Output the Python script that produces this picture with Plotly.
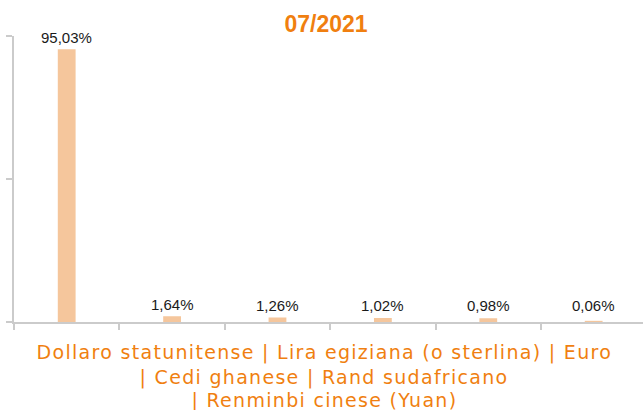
import plotly.graph_objects as go

categories = ["Dollaro statunitense", "Lira egiziana (o sterlina)", "Euro",
              "Cedi ghanese", "Rand sudafricano", "Renminbi cinese (Yuan)"]
values = [95.03, 1.64, 1.26, 1.02, 0.98, 0.06]
value_labels = ["95,03%", "1,64%", "1,26%", "1,02%", "0,98%", "0,06%"]
title_text = "07/2021"
y_ticks = [0, 50, 100]

BAR = "#F5C69C"
ORANGE = "#F07F10"
AXIS = "#CBCBCB"
MIN_LABEL_Y = 1.3  # labels of tiny bars sit like the chart's minimum bar length

fig = go.Figure()
fig.add_trace(go.Bar(x=categories, y=values,
                     marker=dict(color=BAR, line=dict(width=2, color=BAR)),
                     width=0.15, hoverinfo="skip"))

for c, v, t in zip(categories, values, value_labels):
    fig.add_annotation(x=c, y=max(v, MIN_LABEL_Y), text=t, showarrow=False, xref="x", yref="y",
                       yanchor="bottom", yshift=2,
                       font=dict(family="Liberation Sans, Arial", size=15, color="#1a1a1a"))

lines = [" | ".join(categories[:3]),
         "| " + " | ".join(categories[3:5]),
         "| " + categories[5]]
line_y = [352, 377, 400]
for ln, yp in zip(lines, line_y):
    fig.add_annotation(x=(324 - 14) / 629, y=(322 - yp) / 286, xref="paper", yref="paper",
                       text=ln, showarrow=False, xanchor="center", yanchor="middle",
                       font=dict(family="DejaVu Sans", size=19, color=ORANGE))

fig.update_layout(
    width=643, height=410,
    margin=dict(l=14, r=0, t=36, b=88),
    paper_bgcolor="white", plot_bgcolor="white",
    showlegend=False,
    title=dict(text=f"<b>{title_text}</b>", x=326 / 643, xref="container", xanchor="center",
               y=1 - 23.5 / 410, yanchor="middle",
               font=dict(family="Liberation Sans, Arial", size=23, color=ORANGE)),
    xaxis=dict(type="category", range=[-0.5, 5.468], showticklabels=False,
               showline=True, linecolor=AXIS, linewidth=2, ticks="outside",
               tickson="boundaries", ticklen=6, tickwidth=2, tickcolor=AXIS,
               showgrid=False, zeroline=False, fixedrange=True),
    yaxis=dict(range=[0, 100], tickvals=y_ticks, showticklabels=False,
               showline=True, linecolor=AXIS, linewidth=2, ticks="outside",
               ticklen=6, tickwidth=2, tickcolor=AXIS,
               showgrid=False, zeroline=False, fixedrange=True),
)

post = """
document.body.style.margin='0';
document.body.style.overflow='hidden';
document.querySelectorAll('.annotation-text').forEach(function(t){
  if (t.textContent.indexOf('|') >= 0) { t.style.letterSpacing = '1.3px'; }
});
"""

fig.write_html("out.html", config={"displayModeBar": False}, post_script=post)
